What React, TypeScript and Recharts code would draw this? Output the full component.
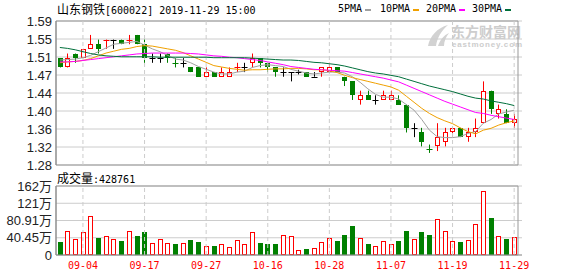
import {
  Bar,
  CartesianGrid,
  ComposedChart,
  Line,
  ReferenceArea,
  ReferenceLine,
  XAxis,
  YAxis,
} from "recharts";

// 山东钢铁 600022 daily K-line, 2019-08-30 .. 2019-11-29
const dates = [
  "08-30", "09-02", "09-03", "09-04", "09-05", "09-06", "09-09", "09-10", "09-11", "09-12",
  "09-16", "09-17", "09-18", "09-19", "09-20", "09-23", "09-24", "09-25", "09-26", "09-27",
  "09-30", "10-08", "10-09", "10-10", "10-11", "10-14", "10-15", "10-16", "10-17", "10-18",
  "10-21", "10-22", "10-23", "10-24", "10-25", "10-28", "10-29", "10-30", "10-31", "11-01",
  "11-04", "11-05", "11-06", "11-07", "11-08", "11-11", "11-12", "11-13", "11-14", "11-15",
  "11-18", "11-19", "11-20", "11-21", "11-22", "11-25", "11-26", "11-27", "11-28", "11-29",
];

const openPrices = [
  1.51, 1.49, 1.52, 1.51, 1.53, 1.54, 1.55, 1.55, 1.55, 1.55,
  1.56, 1.54, 1.51, 1.51, 1.52, 1.50, 1.50, 1.49, 1.49, 1.47,
  1.48, 1.47, 1.47, 1.49, 1.49, 1.50, 1.51, 1.50, 1.49, 1.48,
  1.48, 1.48, 1.48, 1.47, 1.48, 1.48, 1.49, 1.47, 1.46, 1.42,
  1.43, 1.42, 1.42, 1.42, 1.42, 1.41, 1.36, 1.35, 1.315, 1.32,
  1.33, 1.35, 1.36, 1.34, 1.35, 1.37, 1.44, 1.39, 1.39, 1.37,
];
const highPrices = [
  1.51, 1.52, 1.52, 1.53, 1.56, 1.55, 1.55, 1.55, 1.55, 1.56,
  1.56, 1.55, 1.52, 1.52, 1.52, 1.51, 1.51, 1.49, 1.49, 1.49,
  1.48, 1.49, 1.49, 1.50, 1.50, 1.52, 1.51, 1.50, 1.49, 1.49,
  1.48, 1.485, 1.48, 1.48, 1.49, 1.50, 1.49, 1.47, 1.46, 1.44,
  1.44, 1.43, 1.44, 1.44, 1.43, 1.41, 1.37, 1.36, 1.324, 1.37,
  1.36, 1.36, 1.36, 1.36, 1.38, 1.46, 1.44, 1.41, 1.40, 1.39,
];
const lowPrices = [
  1.49, 1.49, 1.50, 1.51, 1.53, 1.52, 1.53, 1.53, 1.54, 1.54,
  1.54, 1.50, 1.50, 1.50, 1.50, 1.49, 1.49, 1.48, 1.47, 1.47,
  1.47, 1.47, 1.47, 1.48, 1.48, 1.49, 1.49, 1.48, 1.47, 1.47,
  1.46, 1.475, 1.47, 1.47, 1.47, 1.48, 1.48, 1.45, 1.42, 1.41,
  1.42, 1.41, 1.42, 1.42, 1.41, 1.35, 1.34, 1.32, 1.306, 1.31,
  1.32, 1.34, 1.34, 1.33, 1.34, 1.37, 1.39, 1.38, 1.37, 1.36,
];
const closePrices = [
  1.49, 1.51, 1.51, 1.53, 1.54, 1.53, 1.55, 1.55, 1.54, 1.55,
  1.54, 1.51, 1.51, 1.51, 1.51, 1.50, 1.50, 1.48, 1.47, 1.48,
  1.47, 1.48, 1.48, 1.49, 1.49, 1.51, 1.50, 1.49, 1.48, 1.48,
  1.48, 1.48, 1.47, 1.47, 1.49, 1.49, 1.48, 1.46, 1.43, 1.43,
  1.42, 1.42, 1.43, 1.43, 1.41, 1.36, 1.36, 1.33, 1.315, 1.34,
  1.35, 1.36, 1.34, 1.35, 1.36, 1.44, 1.40, 1.40, 1.37, 1.38,
];
const closeBeforeFirst = 1.5;

// volume, 万股
const volumes = [
  30.6, 55.8, 38.5, 53.4, 91.1, 39.3, 44.0, 38.5, 33.0, 55.8,
  44.0, 54.2, 27.5, 38.5, 27.5, 25.1, 27.5, 34.5, 30.6, 22.0,
  20.4, 25.1, 18.0, 34.5, 25.1, 53.4, 27.5, 25.1, 25.1, 46.3,
  44.0, 12.6, 13.4, 17.3, 29.8, 40.8, 33.0, 46.3, 67.5, 40.8,
  25.1, 22.0, 33.8, 25.1, 32.2, 55.8, 38.5, 53.4, 46.3, 85.6,
  55.8, 32.2, 29.8, 36.1, 73.8, 149.2, 86.4, 45.5, 36.9, 42.88,
];

const ma5 = [
  1.506, 1.507, 1.508, 1.511, 1.516, 1.524, 1.532, 1.540, 1.542, 1.544,
  1.546, 1.538, 1.530, 1.524, 1.516, 1.508, 1.506, 1.500, 1.492, 1.486,
  1.480, 1.476, 1.476, 1.480, 1.482, 1.490, 1.494, 1.496, 1.494, 1.492,
  1.486, 1.482, 1.478, 1.476, 1.478, 1.480, 1.480, 1.478, 1.470, 1.458,
  1.444, 1.432, 1.426, 1.426, 1.422, 1.410, 1.398, 1.378, 1.355, 1.341,
  1.339, 1.339, 1.341, 1.348, 1.352, 1.370, 1.378, 1.390, 1.394, 1.398,
];
const ma10 = [
  1.500, 1.502, 1.503, 1.505, 1.509, 1.515, 1.521, 1.525, 1.529, 1.531,
  1.535, 1.537, 1.536, 1.533, 1.530, 1.527, 1.522, 1.515, 1.508, 1.501,
  1.494, 1.491, 1.488, 1.486, 1.484, 1.485, 1.485, 1.486, 1.487, 1.487,
  1.488, 1.488, 1.487, 1.485, 1.485, 1.483, 1.479, 1.473, 1.468, 1.464,
  1.460, 1.456, 1.452, 1.448, 1.441, 1.428, 1.415, 1.402, 1.391, 1.382,
  1.375, 1.369, 1.360, 1.352, 1.347, 1.355, 1.359, 1.366, 1.371, 1.375,
];
const ma20 = [
  1.502, 1.502, 1.503, 1.505, 1.507, 1.509, 1.511, 1.513, 1.515, 1.517,
  1.519, 1.520, 1.521, 1.521, 1.521, 1.521, 1.521, 1.520, 1.519, 1.517,
  1.515, 1.514, 1.512, 1.511, 1.509, 1.507, 1.505, 1.502, 1.499, 1.496,
  1.492, 1.490, 1.488, 1.486, 1.485, 1.484, 1.483, 1.482, 1.479, 1.476,
  1.473, 1.470, 1.467, 1.463, 1.459, 1.452, 1.445, 1.438, 1.431, 1.424,
  1.417, 1.411, 1.405, 1.399, 1.393, 1.391, 1.387, 1.384, 1.381, 1.378,
];
const ma30 = [
  1.533, 1.531, 1.528, 1.524, 1.520, 1.517, 1.515, 1.514, 1.513, 1.513,
  1.513, 1.513, 1.513, 1.512, 1.512, 1.512, 1.512, 1.512, 1.512, 1.512,
  1.511, 1.511, 1.511, 1.511, 1.511, 1.510, 1.509, 1.508, 1.507, 1.506,
  1.506, 1.505, 1.503, 1.501, 1.500, 1.498, 1.496, 1.493, 1.489, 1.485,
  1.481, 1.478, 1.476, 1.473, 1.470, 1.465, 1.460, 1.455, 1.450, 1.446,
  1.442, 1.438, 1.433, 1.428, 1.424, 1.422, 1.418, 1.415, 1.412, 1.408,
];

const priceTicks = [1.28, 1.31875, 1.3575, 1.39625, 1.435, 1.47375, 1.5125, 1.55125, 1.59];
const volTicks = [0, 40.45, 80.91, 121.36, 161.82];
const volTickLabels = ["0", "40.45万", "80.91万", "121万", "162万"];
const labelDates = ["09-04", "09-17", "09-27", "10-16", "10-28", "11-07", "11-19", "11-29"];

const maNames = ["5PMA", "10PMA", "20PMA", "30PMA"];
const maColors = ["#a0a0a0", "#f0a000", "#ff00ff", "#006f3b"];

const RED = "#ff0000";
const GREEN = "#008000";
const GRID = "#cccccc";
const BORDER = "#999999";
const MONO = "'DejaVu Sans Mono', monospace";
const CJK = "'Noto Sans CJK SC', sans-serif";

const rows = dates.map((date, i) => ({
  date,
  open: openPrices[i],
  high: highPrices[i],
  low: lowPrices[i],
  close: closePrices[i],
  prevClose: i === 0 ? closeBeforeFirst : closePrices[i - 1],
  vol: volumes[i],
  ma5: ma5[i],
  ma10: ma10[i],
  ma20: ma20[i],
  ma30: ma30[i],
}));

function Candle(props: any) {
  const { x, y, width, height, payload } = props;
  const { open, high, low, close, prevClose } = payload;
  const top = Math.min(y, y + height);
  const bottom = Math.max(y, y + height);
  const toY = (p: number) => top + ((high - p) / (high - low)) * (bottom - top);
  const cx = Math.round(x + width / 2) + 0.5;
  let color = "#000000";
  if (close > open || (close === open && close > prevClose)) color = RED;
  else if (close < open || (close === open && close < prevClose)) color = GREEN;
  const yO = Math.round(toY(open));
  const yC = Math.round(toY(close));
  const wick = <line x1={cx} x2={cx} y1={toY(high)} y2={toY(low)} stroke={color} strokeWidth={1} />;
  if (close === open) {
    return (
      <g>
        {wick}
        <line x1={cx - 3} x2={cx + 3} y1={yO + 0.5} y2={yO + 0.5} stroke={color} strokeWidth={1} />
      </g>
    );
  }
  if (close > open) {
    return (
      <g>
        {wick}
        <rect x={cx - 2} y={yC + 0.5} width={4} height={Math.max(yO - yC - 1, 1)} fill="#fff" stroke={RED} />
      </g>
    );
  }
  return (
    <g>
      {wick}
      <rect x={cx - 2.5} y={yO} width={5} height={Math.max(yC - yO, 1)} fill={GREEN} />
    </g>
  );
}

function VolBar(props: any) {
  const { x, y, width, height, payload } = props;
  const cx = Math.round(x + width / 2) + 0.5;
  const yt = Math.round(y);
  const yb = Math.round(y + height);
  if (payload.close >= payload.prevClose) {
    return <rect x={cx - 2} y={yt + 0.5} width={4} height={Math.max(yb - yt - 1, 1)} fill="#fff" stroke={RED} />;
  }
  return <rect x={cx - 2.5} y={yt} width={5} height={yb - yt} fill={GREEN} />;
}

const axisTick = { fill: "#222", fontSize: 13, fontFamily: "'Liberation Sans', 'Noto Sans CJK SC', sans-serif" };
const xPadding = { left: 0, right: 4 };

export default function App() {
  return (
    <div style={{ position: "absolute", left: 0, top: 0, width: 578, height: 276, background: "#fff" }}>
      {/* title */}
      <div style={{ position: "absolute", left: 57, top: 1, whiteSpace: "nowrap", lineHeight: "16px", color: "#000" }}>
        <span style={{ fontFamily: CJK, fontSize: 12 }}>山东钢铁</span>
        <span style={{ fontFamily: MONO, fontSize: 10 }}>[600022] 2019-11-29 15:00</span>
      </div>

      {/* MA legend */}
      {maNames.map((name, i) => {
        const left = [338, 380, 426, 472][i];
        const w = name.length * 6;
        return (
          <div key={name}>
            <div style={{ position: "absolute", left, top: 1, fontFamily: MONO, fontSize: 10, lineHeight: "16px", color: "#000" }}>
              {name}
            </div>
            <div style={{ position: "absolute", left: left + w + 3, top: 9, width: 6, height: 2, background: maColors[i] }} />
          </div>
        );
      })}

      {/* watermark */}
      <svg style={{ position: "absolute", left: 0, top: 0 }} width={578} height={60}>
        <path d="M428 46 C430 36 437 28 448 25 C441 31 437 38 436 46 Z" fill="#d2d2d2" />
        <path d="M438 46 C440 40 444 35 449 33 C446 37 444 41 444 46 Z" fill="#d2d2d2" />
        <text x={451} y={37} fontSize={14} fontWeight="bold" fill="#cdcdcd" fontFamily={CJK}>东方财富网</text>
        <text x={452} y={47} fontSize={8} fontWeight="bold" fill="#cdcdcd" fontFamily="'Liberation Sans', sans-serif" textLength={70}>eastmoney.com</text>
      </svg>

      {/* price panel */}
      <div style={{ position: "absolute", left: 0, top: 0 }}>
        <ComposedChart width={578} height={172} data={rows} margin={{ top: 21, right: 56, left: 0, bottom: 7 }}>
          <CartesianGrid vertical={false} stroke={GRID} />
          <XAxis dataKey="date" hide padding={xPadding} />
          <YAxis
            domain={[1.28, 1.59]}
            ticks={priceTicks}
            interval={0}
            allowDataOverflow
            width={56}
            tickLine={false}
            tickSize={2}
            tickMargin={2}
            axisLine={{ stroke: "#888" }}
            tick={axisTick}
            tickFormatter={(v: number) => v.toFixed(2)}
          />
          {labelDates.map((d) => (
            <ReferenceLine key={d} x={d} stroke={GRID} strokeDasharray="4 3" />
          ))}
          <ReferenceArea y1={1.28} y2={1.59} fill="none" stroke={BORDER} />
          <Bar dataKey={(r: any) => [r.low, r.high]} barSize={5} shape={<Candle />} isAnimationActive={false} />
          <Line dataKey="ma5" stroke={maColors[0]} dot={false} strokeWidth={1} isAnimationActive={false} />
          <Line dataKey="ma10" stroke={maColors[1]} dot={false} strokeWidth={1} isAnimationActive={false} />
          <Line dataKey="ma20" stroke={maColors[2]} dot={false} strokeWidth={1} isAnimationActive={false} />
          <Line dataKey="ma30" stroke={maColors[3]} dot={false} strokeWidth={1} isAnimationActive={false} />
        </ComposedChart>
      </div>

      {/* volume title */}
      <div style={{ position: "absolute", left: 57, top: 170, whiteSpace: "nowrap", lineHeight: "16px", color: "#000" }}>
        <span style={{ fontFamily: CJK, fontSize: 12 }}>成交量</span>
        <span style={{ fontFamily: MONO, fontSize: 10 }}>:428761</span>
      </div>

      {/* volume panel */}
      <div style={{ position: "absolute", left: 0, top: 172 }}>
        <ComposedChart width={578} height={104} data={rows} margin={{ top: 14, right: 56, left: 0, bottom: 0 }}>
          <CartesianGrid vertical={false} stroke={GRID} />
          <XAxis
            dataKey="date"
            ticks={labelDates}
            interval={0}
            height={21}
            padding={xPadding}
            tickLine={false}
            tickSize={5}
            tickMargin={2}
            axisLine={{ stroke: BORDER }}
            tick={{ fill: RED, fontSize: 10, fontFamily: MONO }}
          />
          <YAxis
            domain={[0, 161.82]}
            ticks={volTicks}
            interval={0}
            allowDataOverflow
            width={56}
            tickLine={false}
            tickSize={2}
            tickMargin={2}
            axisLine={{ stroke: "#888" }}
            tick={axisTick}
            tickFormatter={(_v: number, i: number) => volTickLabels[i]}
          />
          {labelDates.map((d) => (
            <ReferenceLine key={d} x={d} stroke={GRID} strokeDasharray="4 3" />
          ))}
          <ReferenceArea y1={0} y2={161.82} fill="none" stroke={BORDER} />
          <Bar dataKey="vol" barSize={5} shape={<VolBar />} isAnimationActive={false} />
        </ComposedChart>
      </div>
    </div>
  );
}
